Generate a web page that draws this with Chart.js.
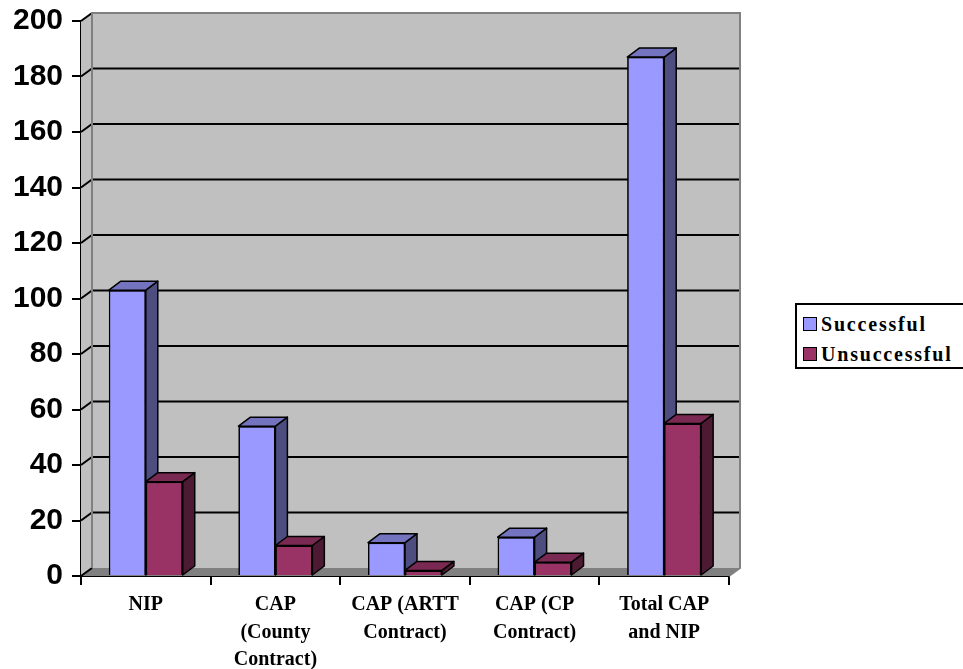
<!DOCTYPE html>
<html><head><meta charset="utf-8">
<script src="https://cdn.jsdelivr.net/npm/chart.js@4"></script>
<style>
html,body{margin:0;padding:0;background:#fff;}
#wrap{position:relative;width:963px;height:669px;overflow:hidden;}
#legend{position:absolute;left:795px;top:303px;width:170px;height:62px;border:2px solid #000;background:#fff;box-sizing:content-box;}
.item{position:absolute;left:6px;height:22px;display:flex;align-items:center;font-family:"Liberation Serif",serif;font-weight:bold;font-size:20px;letter-spacing:1.8px;color:#000;white-space:nowrap;}
.sw{display:inline-block;width:12px;height:12px;border:1.5px solid #000;margin-right:4px;}
</style></head><body>
<div id="wrap"><canvas id="c" width="963" height="669"></canvas><div id="legend"></div></div>
<script>
const categories = [["NIP"],["CAP","(County","Contract)"],["CAP (ARTT","Contract)"],["CAP (CP","Contract)"],["Total CAP","and NIP"]];
const successful = [103, 54, 12, 14, 187];
const unsuccessful = [34, 11, 2, 5, 55];
const seriesNames = ["Successful", "Unsuccessful"];
const yMin = 0, yMax = 200, yStep = 20;

const styles = [
  {front:'#9999FF', top:'#7373BF', side:'#4D4D80'},
  {front:'#993366', top:'#7A2952', side:'#4D1A33'}
];
const WALL = {dx:11, dy:-8};
const BAR = {dx:12, dy:-9};

function poly(ctx, pts, fill, stroke, lw){
  ctx.beginPath();
  ctx.moveTo(pts[0][0], pts[0][1]);
  for(let i=1;i<pts.length;i++) ctx.lineTo(pts[i][0], pts[i][1]);
  ctx.closePath();
  if(fill){ctx.fillStyle=fill;ctx.fill();}
  if(stroke){ctx.strokeStyle=stroke;ctx.lineWidth=lw||1;ctx.stroke();}
}

const wallPlugin = {
  id:'wall3d',
  beforeDatasetsDraw(chart){
    const ctx = chart.ctx, a = chart.chartArea, y = chart.scales.y;
    const dx = WALL.dx, dy = WALL.dy;
    ctx.save();
    poly(ctx, [[a.left+dx,a.top+dy],[a.right+dx,a.top+dy],[a.right+dx,a.bottom+dy],[a.left+dx,a.bottom+dy]], '#C0C0C0');
    poly(ctx, [[a.left,a.top],[a.left+dx,a.top+dy],[a.left+dx,a.bottom+dy],[a.left,a.bottom]], '#C0C0C0');
    poly(ctx, [[a.left,a.bottom],[a.left+dx,a.bottom+dy],[a.right+dx,a.bottom+dy],[a.right,a.bottom]], '#808080');
    ctx.strokeStyle='#000'; ctx.lineWidth=2;
    y.ticks.forEach(t=>{
      const py = y.getPixelForValue(t.value);
      ctx.beginPath();
      ctx.moveTo(a.left, py);
      ctx.lineTo(a.left+dx, py+dy);
      if(t.value!==yMin && t.value!==yMax) ctx.lineTo(a.right+dx, py+dy);
      ctx.stroke();
    });
    ctx.strokeStyle='#808080'; ctx.lineWidth=2;
    ctx.beginPath();
    ctx.moveTo(a.left+dx, a.bottom+dy);
    ctx.lineTo(a.left+dx, a.top+dy);
    ctx.lineTo(a.right+dx, a.top+dy);
    ctx.lineTo(a.right+dx, a.bottom+dy);
    ctx.lineTo(a.right, a.bottom);
    ctx.stroke();
    ctx.restore();
  },
  afterDatasetsDraw(chart){
    const ctx = chart.ctx;
    const metas = chart.data.datasets.map((d,i)=>chart.getDatasetMeta(i));
    ctx.save();
    ctx.lineJoin='round';
    for(let i=0;i<categories.length;i++){
      metas.forEach((m,di)=>{
        const el = m.data[i];
        const p = el.getProps(['x','y','base','width'], true);
        const l = p.x - p.width/2, r = p.x + p.width/2;
        const st = styles[di];
        poly(ctx, [[r,p.y],[r+BAR.dx,p.y+BAR.dy],[r+BAR.dx,p.base+BAR.dy],[r,p.base]], st.side, '#000', 1.5);
        poly(ctx, [[l,p.y],[l+BAR.dx,p.y+BAR.dy],[r+BAR.dx,p.y+BAR.dy],[r,p.y]], st.top, '#000', 1.5);
        el.draw(ctx);
      });
    }
    ctx.restore();
  }
};

const chart = new Chart(document.getElementById('c'), {
  type:'bar',
  data:{
    labels: categories,
    datasets:[
      {label:seriesNames[0], data:successful, backgroundColor:styles[0].front, borderColor:'#000', borderWidth:1.5},
      {label:seriesNames[1], data:unsuccessful, backgroundColor:styles[1].front, borderColor:'#000', borderWidth:1.5}
    ]
  },
  options:{
    responsive:false,
    animation:false,
    layout:{padding:{top:21,right:234,left:0,bottom:0}},
    plugins:{legend:{display:false}, tooltip:{enabled:false}},
    datasets:{bar:{categoryPercentage:0.57, barPercentage:1}},
    scales:{
      x:{
        grid:{drawOnChartArea:false, drawTicks:true, tickLength:9, color:'#000', lineWidth:2, offset:true},
        border:{display:true, color:'#000', width:2},
        ticks:{color:'#000', font:{family:'"Liberation Serif"', weight:'bold', size:20, lineHeight:1.38}, padding:6, maxRotation:0, autoSkip:false},
        afterFit(s){ s.height = 93; s.paddingLeft = 0; s.paddingRight = 0; }
      },
      y:{
        min:yMin, max:yMax,
        ticks:{stepSize:yStep, color:'#000', font:{family:'"Liberation Sans"', weight:'bold', size:30}, padding:9},
        grid:{drawOnChartArea:false, drawTicks:true, tickLength:9, color:'#000', lineWidth:2},
        border:{display:true, color:'#000', width:2},
        afterFit(s){ s.width = 81; s.paddingTop = 0; s.paddingBottom = 0; }
      }
    }
  },
  plugins:[wallPlugin]
});

const lg = document.getElementById('legend');
seriesNames.forEach((n,i)=>{
  const d = document.createElement('div');
  d.className='item';
  d.style.top = (8 + i*30) + 'px';
  const sw = document.createElement('span');
  sw.className='sw'; sw.style.background = styles[i].front;
  d.appendChild(sw);
  d.appendChild(document.createTextNode(n));
  lg.appendChild(d);
});
</script>
</body></html>
